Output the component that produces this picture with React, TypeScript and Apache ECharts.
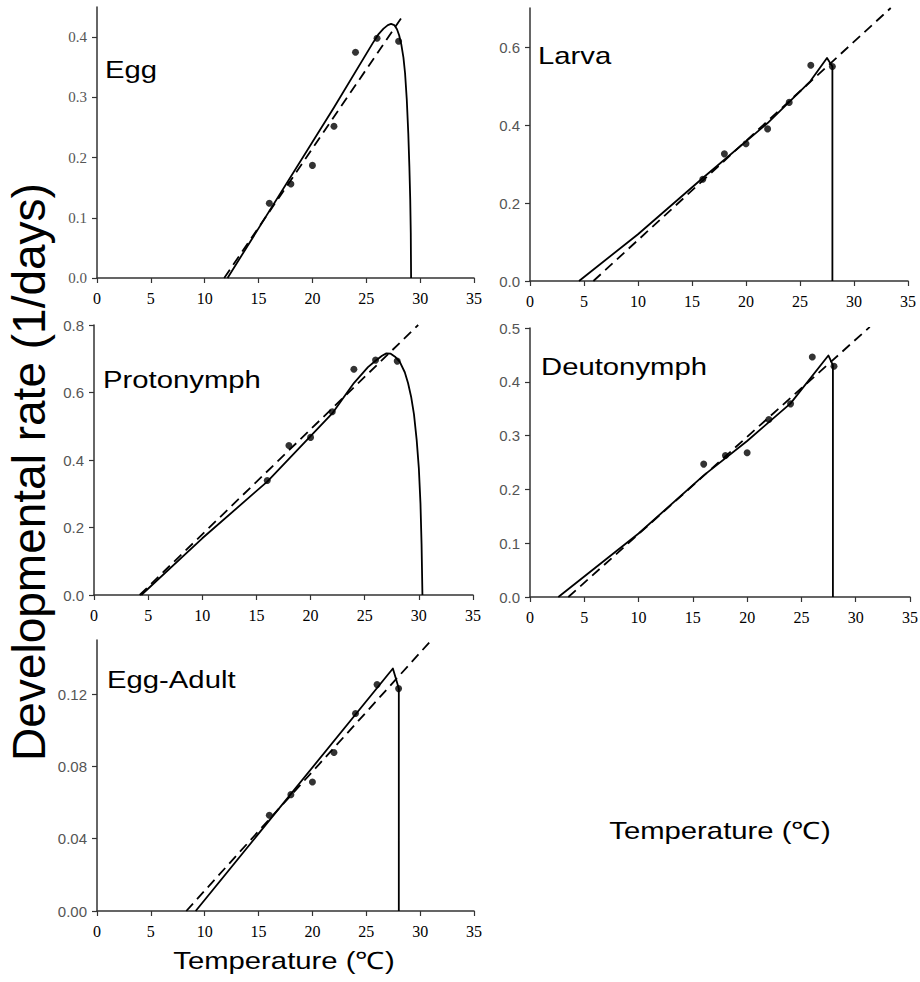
import React, { useEffect, useRef } from "react";
import * as echarts from "echarts";

// ---- data ----
const temps = [16, 18, 20, 22, 24, 26, 28];
const eggRate = [0.124, 0.156, 0.187, 0.252, 0.375, 0.398, 0.393];
const larvaRate = [0.261, 0.326, 0.352, 0.39, 0.458, 0.553, 0.55];
const protoRate = [0.339, 0.443, 0.467, 0.543, 0.669, 0.696, 0.693];
const deutoRate = [0.247, 0.263, 0.268, 0.33, 0.359, 0.446, 0.429];
const adultRate = [0.053, 0.0644, 0.0714, 0.0877, 0.1093, 0.1253, 0.1231];

// nonlinear model curves (solid)
const eggCurve = [[12.12, 0], [22, 0.283], [25.6, 0.39], [26.1, 0.404], [26.6, 0.414], [27.0, 0.42], [27.3, 0.422], [27.6, 0.42], [27.85, 0.413], [28.05, 0.403], [28.25, 0.388], [28.45, 0.366], [28.6, 0.34], [28.76, 0.296], [28.9, 0.24], [29.0, 0.185], [29.08, 0.13], [29.13, 0.075], [29.16, 0]];
const larvaCurve = [[4.54, 0], [10, 0.12], [16, 0.264], [22, 0.405], [25.95, 0.512], [27.5, 0.572], [28, 0.55], [28, 0]];
const protoCurve = [[4.37, 0], [10, 0.168], [16, 0.336], [22, 0.538], [24, 0.628], [25.3, 0.675], [26, 0.694], [26.6, 0.709], [27.0, 0.716], [27.4, 0.715], [27.8, 0.706], [28.24, 0.691], [28.7, 0.66], [29.0, 0.628], [29.3, 0.585], [29.55, 0.535], [29.8, 0.459], [30.0, 0.375], [30.15, 0.27], [30.25, 0.15], [30.33, 0]];
const deutoCurve = [[2.61, 0], [10, 0.118], [16, 0.226], [20, 0.29], [24, 0.36], [27.48, 0.449], [27.9, 0.431], [27.9, 0]];
const adultCurve = [[9.16, 0], [27.47, 0.1342], [28.02, 0.1231], [28.02, 0]];

// linear model (dashed)
const eggLinear = [[11.81, 0], [28.45, 0.437]];
const larvaLinear = [[5.87, 0], [33.4, 0.7]];
const protoLinear = [[4.22, 0], [29.94, 0.8]];
const deutoLinear = [[3.53, 0], [31.3, 0.502]];
const adultLinear = [[8.29, 0], [31.18, 0.1508]];

// axis ticks
const xTicks = [0, 5, 10, 15, 20, 25, 30, 35];
const eggTicks = [0, 0.1, 0.2, 0.3, 0.4];
const larvaTicks = [0, 0.2, 0.4, 0.6];
const protoTicks = [0, 0.2, 0.4, 0.6, 0.8];
const deutoTicks = [0, 0.1, 0.2, 0.3, 0.4, 0.5];
const adultTicks = [0, 0.04, 0.08, 0.12];

const stageNames = ["Egg", "Larva", "Protonymph", "Deutonymph", "Egg-Adult"];

export default function App() {
  const ref = useRef<HTMLDivElement>(null);
  useEffect(() => {
    if (!ref.current) return;
    const chart = echarts.init(ref.current, null, { renderer: "svg" });

    const grids = [
      { left: 97, top: 7, width: 377, height: 271 },
      { left: 530, top: 8, width: 378, height: 273 },
      { left: 94, top: 325, width: 379, height: 270 },
      { left: 530, top: 328, width: 380, height: 269 },
      { left: 97, top: 640, width: 377, height: 271 },
    ];
    const yMax = [0.45, 0.7, 0.8, 0.5, 0.15];
    const yTicks = [eggTicks, larvaTicks, protoTicks, deutoTicks, adultTicks];
    const yDec = [1, 1, 1, 1, 2];
    const yFont = [
      '"Liberation Serif", "Times New Roman", serif',
      '"Liberation Sans", Arial, sans-serif',
      '"Liberation Sans", Arial, sans-serif',
      '"Liberation Sans", Arial, sans-serif',
      '"Liberation Sans", Arial, sans-serif',
    ];
    const rates = [eggRate, larvaRate, protoRate, deutoRate, adultRate];
    const curves = [eggCurve, larvaCurve, protoCurve, deutoCurve, adultCurve];
    const linears = [eggLinear, larvaLinear, protoLinear, deutoLinear, adultLinear];

    const axisLine = { show: true, lineStyle: { color: "#333", width: 1.5 } };

    const xAxis = grids.map((_, i) => ({
      type: "value",
      gridIndex: i,
      min: 0,
      max: 35,
      axisLine: { ...axisLine, onZero: false },
      axisTick: { show: true, length: 5, customValues: xTicks, lineStyle: { color: "#333", width: 1.2 } },
      axisLabel: {
        customValues: xTicks,
        fontFamily: '"Liberation Serif", "Times New Roman", serif',
        fontSize: 16,
        color: "#000",
        margin: 12,
      },
      splitLine: { show: false },
    }));

    const yAxis = grids.map((_, i) => ({
      type: "value",
      gridIndex: i,
      min: 0,
      max: yMax[i],
      axisLine: { ...axisLine, onZero: false },
      axisTick: { show: true, length: 5, customValues: yTicks[i], lineStyle: { color: "#333", width: 1.2 } },
      axisLabel: {
        customValues: yTicks[i],
        formatter: (v: number) => v.toFixed(yDec[i]),
        fontFamily: yFont[i],
        fontSize: 15,
        color: "#555",
        margin: 10,
      },
      splitLine: { show: false },
    }));

    const series: any[] = [];
    grids.forEach((_, i) => {
      series.push({
        type: "line",
        xAxisIndex: i,
        yAxisIndex: i,
        data: linears[i],
        showSymbol: false,
        lineStyle: { color: "#000", width: 1.8, type: [10, 6] },
        z: 2,
      });
      series.push({
        type: "line",
        xAxisIndex: i,
        yAxisIndex: i,
        data: curves[i],
        showSymbol: false,
        lineStyle: { color: "#000", width: 1.8, join: "round" },
        z: 3,
      });
      series.push({
        type: "scatter",
        xAxisIndex: i,
        yAxisIndex: i,
        data: temps.map((t, k) => [t, rates[i][k]]),
        symbol: "circle",
        symbolSize: 7,
        itemStyle: { color: "#000" },
        z: 4,
      });
    });

    const titlePos = [
      [105, 70],
      [538, 56],
      [103, 380],
      [541, 367],
      [107, 680],
    ];
    const sans = '"Liberation Sans", Arial, sans-serif';
    const graphic: any[] = stageNames.map((name, i) => ({
      type: "text",
      x: titlePos[i][0],
      y: titlePos[i][1],
      scaleX: 1.22,
      style: {
        text: name,
        font: `24px ${sans}`,
        fill: "#000",
        textVerticalAlign: "middle",
      },
    }));
    graphic.push({
      type: "text",
      x: 29,
      y: 472,
      rotation: Math.PI / 2,
      style: {
        text: "Developmental rate (1/days)",
        font: `46px ${sans}`,
        fill: "#000",
        textAlign: "center",
        textVerticalAlign: "middle",
      },
    });
    graphic.push({
      type: "text",
      x: 720,
      y: 831,
      scaleX: 1.22,
      style: {
        text: "Temperature (℃)",
        font: `24px ${sans}`,
        fill: "#000",
        textAlign: "center",
        textVerticalAlign: "middle",
      },
    });
    graphic.push({
      type: "text",
      x: 284,
      y: 961,
      scaleX: 1.22,
      style: {
        text: "Temperature (℃)",
        font: `24px ${sans}`,
        fill: "#000",
        textAlign: "center",
        textVerticalAlign: "middle",
      },
    });

    chart.setOption({
      animation: false,
      backgroundColor: "#fff",
      grid: grids.map((g) => ({ ...g, outerBoundsMode: "none", containLabel: false })),
      xAxis,
      yAxis,
      series,
      graphic,
    });
    return () => chart.dispose();
  }, []);
  return (
    <div
      ref={ref}
      style={{ position: "absolute", left: 0, top: 0, width: 920, height: 982 }}
    />
  );
}
